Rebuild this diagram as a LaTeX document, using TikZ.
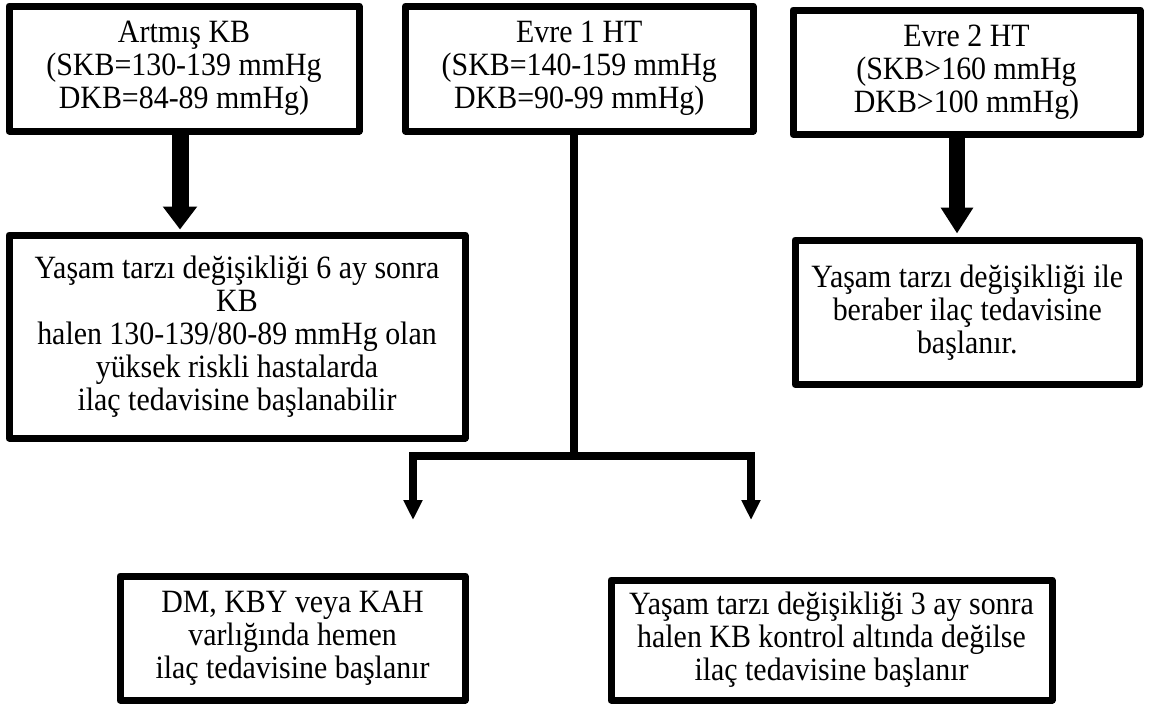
\documentclass[tikz,border=0pt]{standalone}
\usepackage{fontspec}
\setmainfont[FakeStretch=0.92]{Liberation Serif}
\usetikzlibrary{arrows.meta}
\tikzset{
  box/.style={draw=black, line width=7pt, line join=round, inner sep=0pt,
    align=center, font=\fontsize{32.5}{33}\selectfont},
  bigarrow/.style={line width=17pt, -{Triangle[width=33pt,length=23pt]}},
  midarrow/.style={line width=16pt, -{Triangle[width=31pt,length=26pt]}},
  trunk/.style={line width=8pt},
  smallarrow/.style={line width=8pt, line join=miter, -{Triangle[width=18pt,length=20pt]}}
}
\begin{document}
\begin{tikzpicture}[x=1pt,y=-1pt]
\useasboundingbox (0,0) rectangle (1150,707);

\node[box, minimum width=350pt, minimum height=125pt] (A) at (184,68.5)
  {Artmış KB\\(SKB=130-139 mmHg\\DKB=84-89 mmHg)};
\node[box, minimum width=347.5pt, minimum height=125pt] (B) at (579.25,68.5)
  {Evre 1 HT\\(SKB=140-159 mmHg\\DKB=90-99 mmHg)};
\node[box, minimum width=347pt, minimum height=124.5pt] (C) at (966.5,72.25)
  {Evre 2 HT\\(SKB>160 mmHg\\DKB>100 mmHg)};
\node[box, minimum width=456pt, minimum height=203pt] (D) at (237,336.5)
  {Yaşam tarzı değişikliği 6 ay sonra\\KB\\halen 130-139/80-89 mmHg olan\\yüksek riskli hastalarda\\ilaç tedavisine başlanabilir};
\node[box, minimum width=344.5pt, minimum height=144.5pt] (G) at (967.25,312.25)
  {Yaşam tarzı değişikliği ile\\beraber ilaç tedavisine\\başlanır.};
\node[box, minimum width=345pt, minimum height=124pt] (E) at (292.5,638)
  {DM, KBY veya KAH\\varlığında hemen\\ilaç tedavisine başlanır};
\node[box, minimum width=441pt, minimum height=120pt] (F) at (831.5,640)
  {Yaşam tarzı değişikliği 3 ay sonra\\halen KB kontrol altında değilse\\ilaç tedavisine başlanır};

% A -> D
\coordinate (a1) at ([xshift=-4pt]A.south);
\coordinate (d1) at ([yshift=2pt]D.north);
\draw[bigarrow] (a1) -- (a1 |- d1);

% C -> G
\coordinate (c1) at ([xshift=-9.5pt]C.south);
\coordinate (g1) at ([yshift=3pt]G.north);
\draw[midarrow] (c1) -- (c1 |- g1);

% B -> split
\coordinate (b1) at ([xshift=-5.25pt]B.south);
\coordinate (j) at (574,456);
\coordinate (le) at (413,520);
\coordinate (re) at (751,520);
\draw[trunk] (b1) -- (b1 |- j);
\draw[smallarrow] (b1 |- j) -| (le);
\draw[smallarrow] (b1 |- j) -| (re);
\end{tikzpicture}
\end{document}
